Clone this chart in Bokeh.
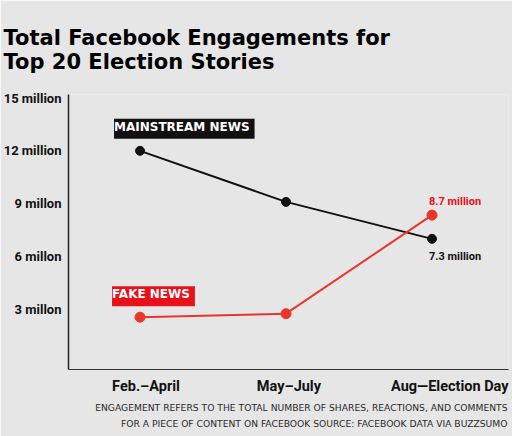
from bokeh.plotting import figure
from bokeh.models import Label, Range1d, FixedTicker, Title
from bokeh.embed import file_html
from bokeh.resources import INLINE

categories = ["Feb.–April", "May–July", "Aug—Election Day"]
mainstream = [12.0, 9.1, 7.0]
fake = [2.55, 2.75, 8.35]
y_ticks = [3, 6, 9, 12, 15]
y_tick_labels = ["3 millon", "6 millon", "9 millon", "12 million", "15 million"]
fake_end_label = "8.7 million"
main_end_label = "7.3 million"
title_lines = ["Total Facebook Engagements for", "Top 20 Election Stories"]
note_lines = ["ENGAGEMENT REFERS TO THE TOTAL NUMBER OF SHARES, REACTIONS, AND COMMENTS",
              "FOR A PIECE OF CONTENT ON FACEBOOK SOURCE: FACEBOOK DATA VIA BUZZSUMO"]

BG = "#e6e6e6"
RED = "#e8372a"
BOXRED = "#e8111b"
BLACK = "#111111"

xs = list(range(len(categories)))

p = figure(width=512, height=436, output_backend="svg", toolbar_location=None,
           x_range=Range1d(-0.49, 2.524), y_range=Range1d(-0.42, 15.2),
           min_border_left=65, min_border_right=4, min_border_top=94, min_border_bottom=67)
p.background_fill_color = BG
p.border_fill_color = BG
p.outline_line_color = None
p.grid.visible = False

# axes
p.yaxis.ticker = FixedTicker(ticks=y_ticks)
p.yaxis.major_label_overrides = {t: l for t, l in zip(y_ticks, y_tick_labels)}
p.yaxis.major_tick_line_color = None
p.yaxis.major_tick_out = 0
p.yaxis.major_tick_in = 0
p.yaxis.minor_tick_line_color = None
p.yaxis.axis_line_color = "#222222"
p.yaxis.axis_line_width = 1.5
p.yaxis.major_label_text_font = "Roboto"
p.yaxis.major_label_text_font_style = "bold"
p.yaxis.major_label_text_font_size = "13px"
p.yaxis.major_label_text_color = BLACK
p.yaxis.major_label_standoff = 7

cat_pos = [0.041, 1.02, 2.122]
p.xaxis.ticker = FixedTicker(ticks=cat_pos)
p.xaxis.major_label_overrides = {t: c for t, c in zip(cat_pos, categories)}
p.xaxis.major_tick_line_color = None
p.xaxis.major_tick_out = 0
p.xaxis.major_tick_in = 0
p.xaxis.minor_tick_line_color = None
p.xaxis.axis_line_color = "#333333"
p.xaxis.axis_line_width = 1.2
p.xaxis.major_label_text_font = "Roboto"
p.xaxis.major_label_text_font_style = "bold"
p.xaxis.major_label_text_font_size = "14.5px"
p.xaxis.major_label_text_color = BLACK
p.xaxis.major_label_standoff = 8

# lines
p.line(xs, mainstream, line_color=BLACK, line_width=2)
p.scatter(xs, mainstream, size=9, fill_color=BLACK, line_color=BLACK)
p.line(xs, fake, line_color=RED, line_width=2)
p.scatter(xs, fake, size=10, fill_color=RED, line_color=RED)

# series labels
p.add_layout(Label(x=xs[0], y=mainstream[0], x_offset=-26, y_offset=22, text="MAINSTREAM NEWS",
                   text_color="white", text_font="DejaVu Sans", text_font_style="bold", text_font_size="12px",
                   text_baseline="middle", text_align="left",
                   background_fill_color=BLACK, padding=(0, 5, 1, 5)))
p.add_layout(Label(x=xs[0], y=fake[0], x_offset=-28, y_offset=21, text="FAKE NEWS",
                   text_color="white", text_font="DejaVu Sans", text_font_style="bold", text_font_size="12px",
                   text_baseline="middle", text_align="left",
                   background_fill_color=BOXRED, padding=(0, 5, 1, 5)))
p.add_layout(Label(x=xs[2], y=fake[2], x_offset=-3, y_offset=14, text=fake_end_label,
                   text_color=BOXRED, text_font="Roboto", text_font_style="bold", text_font_size="11px",
                   text_baseline="middle", text_align="left"))
p.add_layout(Label(x=xs[2], y=mainstream[2], x_offset=-3, y_offset=-18, text=main_end_label,
                   text_color=BLACK, text_font="Roboto", text_font_style="bold", text_font_size="11px",
                   text_baseline="middle", text_align="left"))

# title
p.add_layout(Title(text="\n".join(title_lines), align="left", offset=-65, standoff=41,
                   text_color="#000000", text_font="DejaVu Sans", text_font_style="bold",
                   text_font_size="21px", text_line_height=1.0), "above")

# footnote
for t, so in zip(note_lines, [5, 0]):
    p.add_layout(Title(text=t, align="right", offset=1, standoff=so,
                       text_color="#2a2a2a", text_font="DejaVu Sans", text_font_style="normal",
                       text_font_size="9.2px"), "below")

open("out.html", "w").write(file_html(p, INLINE))
